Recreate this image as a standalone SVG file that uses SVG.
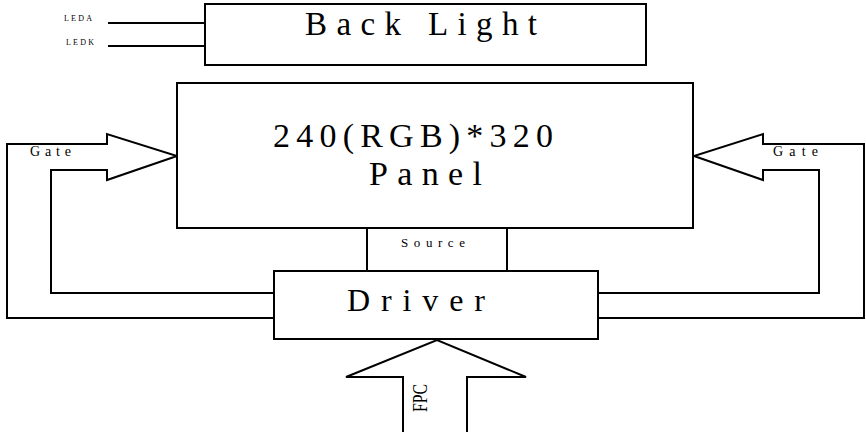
<svg xmlns="http://www.w3.org/2000/svg" width="866" height="432" viewBox="0 0 866 432">
<style>
.ln{fill:none;stroke:#000;stroke-width:2;stroke-linejoin:miter}
.bx{fill:#fff;stroke:#000;stroke-width:2}
.t{font-family:"Liberation Serif","DejaVu Serif",serif;fill:#000}
</style>
<rect width="866" height="432" fill="#fff"/>
<g id="connectors">
<line class="ln" x1="108" y1="23" x2="205" y2="23"/>
<line class="ln" x1="108" y1="46" x2="205" y2="46"/>
<path id="gate-left" class="ln" d="M274,318 H7 V144 H107 V134 L177,156 L107,180 V170 H51 V293 H274"/>
<path id="gate-right" class="ln" d="M598,318 H864 V144 H763 V134 L694,156 L763,180 V170 H819 V293 H598"/>
<path id="fpc" class="ln" d="M403,432 V377 H346 L437,340 L526,377 H467 V432"/>
</g>
<g id="backlight">
<rect class="bx" x="205" y="4" width="441" height="61"/>
<text class="t" x="305" y="35" font-size="33" textLength="232">Back Light</text>
</g>
<g id="leds">
<text class="t" x="64" y="21" font-size="8" textLength="28">LEDA</text>
<text class="t" x="66" y="45" font-size="8" textLength="28">LEDK</text>
</g>
<g id="panel">
<rect class="bx" x="177" y="83" width="516" height="145"/>
<text class="t" x="273" y="147" font-size="34" textLength="280">240(RGB)*320</text>
<text class="t" x="369" y="185" font-size="34" textLength="113">Panel</text>
</g>
<g id="source">
<rect class="bx" x="367" y="228" width="140" height="43"/>
<text class="t" x="401" y="247" font-size="13" textLength="64">Source</text>
</g>
<g id="driver">
<rect class="bx" x="274" y="271" width="324" height="68"/>
<text class="t" x="347" y="311" font-size="32" textLength="138">Driver</text>
</g>
<g id="labels">
<text class="t" x="30" y="156" font-size="14" textLength="41">Gate</text>
<text class="t" x="773" y="156" font-size="14" textLength="45">Gate</text>
<text class="t" transform="translate(427,412) rotate(-90)" font-size="20" textLength="28" lengthAdjust="spacingAndGlyphs">FPC</text>
</g>
</svg>
